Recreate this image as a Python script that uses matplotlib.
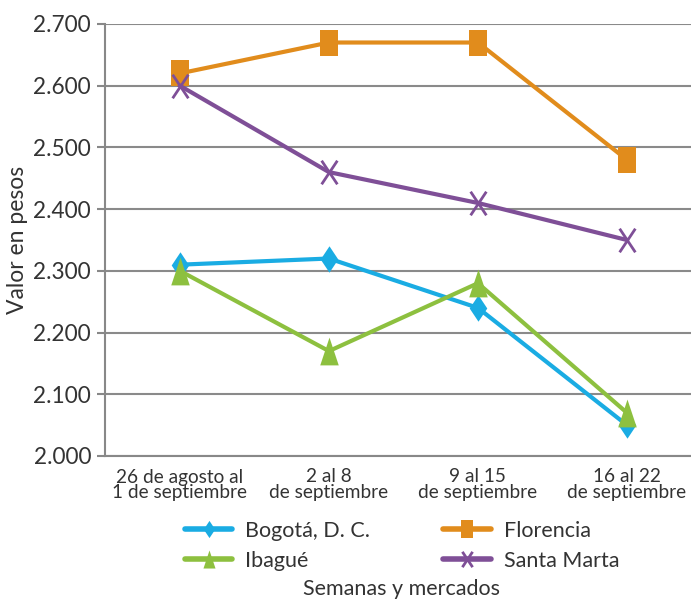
import matplotlib
matplotlib.use("Agg")
import matplotlib.pyplot as plt
from matplotlib.ticker import FuncFormatter
from matplotlib.path import Path

categories = ["26 de agosto al\n1 de septiembre", "2 al 8\nde septiembre",
              "9 al 15\nde septiembre", "16 al 22\nde septiembre"]
bogota = [2310, 2320, 2240, 2050]
florencia = [2620, 2670, 2670, 2480]
ibague = [2300, 2170, 2280, 2070]
santa_marta = [2600, 2460, 2410, 2350]
y_ticks = [2000, 2100, 2200, 2300, 2400, 2500, 2600, 2700]

plt.rcParams['font.family'] = ['Lato', 'DejaVu Sans']

# tall (horizontally compressed) marker shapes
sq = Path([(-1, -1.5), (1, -1.5), (1, 1.5), (-1, 1.5), (-1, -1.5)],
          [Path.MOVETO, Path.LINETO, Path.LINETO, Path.LINETO, Path.CLOSEPOLY])
dia = Path([(0, 1.5), (1, 0), (0, -1.5), (-1, 0), (0, 1.5)],
           [Path.MOVETO, Path.LINETO, Path.LINETO, Path.LINETO, Path.CLOSEPOLY])
tri = Path([(0, 1.5), (1, -1.5), (-1, -1.5), (0, 1.5)],
           [Path.MOVETO, Path.LINETO, Path.LINETO, Path.CLOSEPOLY])
xm = Path([(-1, -1.5), (1, 1.5), (-1, 1.5), (1, -1.5)],
          [Path.MOVETO, Path.LINETO, Path.MOVETO, Path.LINETO])

fig = plt.figure(figsize=(6.91, 6.0), dpi=100)
ax = fig.add_axes([105/691, 1-456/600, 1-105/691, (456-24)/600])

x = list(range(len(categories)))
lw = 3.0
ax.plot(x, bogota, color='#1AACE3', lw=lw, marker=dia, ms=19, mew=0, label='Bogotá, D. C.', zorder=3)
ax.plot(x, florencia, color='#E18C1C', lw=lw, marker=sq, ms=19, mew=0, label='Florencia', zorder=3)
ax.plot(x, ibague, color='#8DC03F', lw=lw, marker=tri, ms=20, mew=0, label='Ibagué', zorder=4)
ax.plot(x, santa_marta, color='#7F4F97', lw=lw, marker=xm, ms=17, mew=2, mfc='none',
        label='Santa Marta', zorder=3)

ax.set_xlim(-0.503, 3.43)
ax.set_ylim(2000, 2700)
ax.set_yticks(y_ticks)
ax.yaxis.set_major_formatter(FuncFormatter(lambda v, p: f"{int(v):,}".replace(",", ".")))
ax.set_xticks(x)
ax.set_xticklabels(categories, fontsize=13.7, linespacing=0.9)
ax.tick_params(axis='x', length=0, pad=9, colors='#333333')
ax.tick_params(axis='y', length=6, width=1.5, color='#888888', labelsize=16.3, labelcolor='#333333', pad=4)
ax.grid(axis='y', color='#8a8a8a', lw=1.5)
ax.set_axisbelow(True)
for s in ['top', 'right']:
    ax.spines[s].set_visible(False)
for s in ['left', 'bottom']:
    ax.spines[s].set_color('#888888')
    ax.spines[s].set_linewidth(1.5)

ax.set_ylabel('Valor en pesos', fontsize=16.5, color='#333333')
ax.yaxis.set_label_coords((28 - 105) / 586, 0.5)
fig.text(402/691, 1-589/600, 'Semanas y mercados', fontsize=15.5, color='#333333', ha='center', va='center')

h, l = ax.get_legend_handles_labels()
order = [0, 2, 1, 3]
leg = fig.legend([h[i] for i in order], [l[i] for i in order], ncol=2,
                 loc='upper left', bbox_to_anchor=(185/691, 1-521/600), frameon=False,
                 fontsize=15.5, handlelength=2.2, columnspacing=3.4, labelspacing=0.45,
                 handletextpad=0.6, markerscale=0.65, borderpad=0, borderaxespad=0)
for t in leg.get_texts():
    t.set_color('#333333')
for ln in leg.get_lines():
    ln.set_linewidth(4)
    ln.set_solid_capstyle('round')

fig.savefig('out.png', dpi=100)
